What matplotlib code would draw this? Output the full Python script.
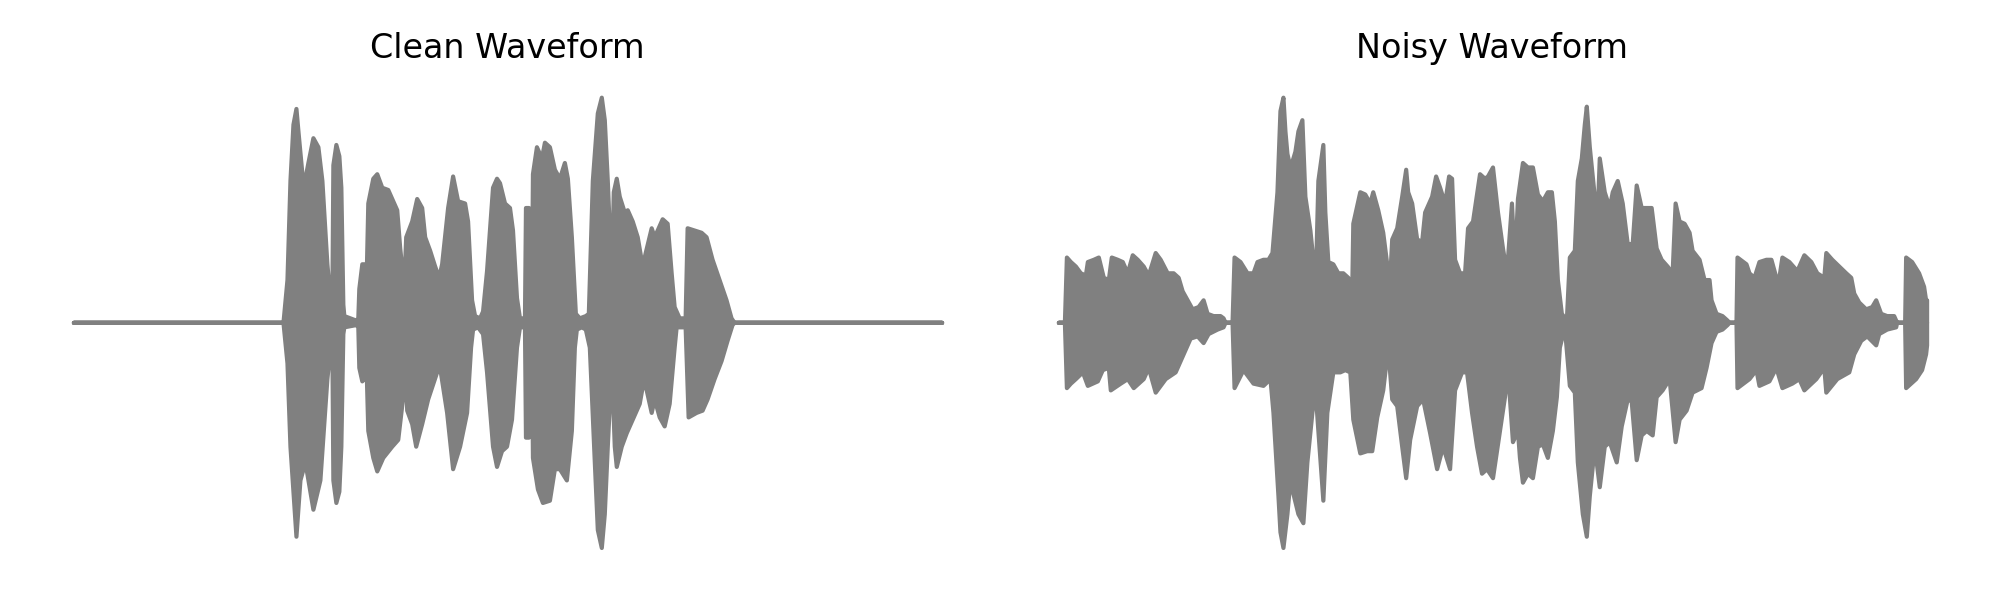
import numpy as np
import matplotlib
matplotlib.use('Agg')
import matplotlib.pyplot as plt

# amplitude envelopes, frame index at 4 ms per frame
hop = 0.004

clean_top_f = [0, 210, 214, 217, 220, 223, 225, 229, 232, 235, 240, 245, 249, 254, 257,
               259, 260, 263, 266, 268, 270, 271, 277, 283, 285, 286, 289, 291, 293,
               295, 300, 304, 309, 315, 320, 324, 327, 331, 333, 339, 344, 349, 352,
               357, 362, 366, 369, 375, 380, 385, 392, 395, 399, 402, 407, 410, 414,
               420, 424, 427, 432, 437, 440, 444, 447, 452, 453, 456, 457, 459, 460,
               464, 469, 472, 477, 482, 487, 492, 495, 499, 503, 507, 513, 516, 520,
               525, 529, 532, 535, 539, 541, 544, 547, 552, 555, 560, 565, 570, 573,
               579, 582, 585, 590, 595, 599, 602, 607, 613, 615, 622, 629, 634, 640,
               647, 654, 659, 662, 870]
clean_top = [0, 0, 0.19, 0.63, 0.88, 0.95, 0.85, 0.66, 0.64, 0.71, 0.82, 0.78, 0.63, 0.26, 0.11,
             0.10, 0.70, 0.79, 0.74, 0.60, 0.08, 0.03, 0.02, 0.01, 0.02, 0.15, 0.26, 0.26, 0.12,
             0.53, 0.64, 0.66, 0.60, 0.59, 0.54, 0.50, 0.33, 0.16, 0.38, 0.45, 0.55, 0.51, 0.38,
             0.32, 0.25, 0.20, 0.26, 0.51, 0.65, 0.54, 0.53, 0.45, 0.10, 0.03, 0.02, 0.05, 0.23,
             0.60, 0.64, 0.62, 0.53, 0.51, 0.41, 0.11, 0.02, 0.02, 0.51, 0.51, 0.03, 0.10, 0.66,
             0.78, 0.73, 0.80, 0.78, 0.68, 0.64, 0.71, 0.64, 0.38, 0.04, 0.02, 0.03, 0.04, 0.63,
             0.93, 1.00, 0.90, 0.63, 0.19, 0.58, 0.64, 0.56, 0.49, 0.50, 0.45, 0.38, 0.25, 0.31,
             0.42, 0.38, 0.41, 0.46, 0.44, 0.22, 0.07, 0.02, 0.02, 0.42, 0.41, 0.40, 0.38, 0.28,
             0.19, 0.10, 0.02, 0, 0]

clean_bot_f = [0, 210, 214, 217, 223, 227, 232, 240, 247, 254, 257, 259, 260, 263, 266,
               268, 270, 271, 283, 285, 286, 289, 291, 293, 295, 300, 304, 310, 319, 325,
               330, 332, 334, 339, 343, 349, 355, 364, 367, 374, 380, 387, 394, 398, 400,
               405, 410, 414, 420, 424, 429, 434, 439, 444, 447, 452, 453, 456, 457, 459,
               460, 465, 470, 477, 482, 487, 494, 499, 502, 504, 509, 513, 517, 522, 525,
               529, 532, 535, 539, 542, 544, 549, 554, 560, 567, 571, 574, 579, 582, 587,
               592, 597, 602, 604, 613, 616, 624, 630, 635, 642, 649, 655, 660, 662, 870]
clean_bot = [0, 0, -0.18, -0.55, -0.95, -0.70, -0.62, -0.83, -0.70, -0.25, -0.12, -0.10, -0.70, -0.80, -0.75,
             -0.55, -0.05, -0.02, -0.01, -0.02, -0.20, -0.26, -0.25, -0.15, -0.48, -0.60, -0.66, -0.60, -0.55, -0.52,
             -0.33, -0.15, -0.39, -0.45, -0.55, -0.45, -0.34, -0.22, -0.20, -0.40, -0.65, -0.55, -0.40, -0.11, -0.03,
             -0.02, -0.05, -0.22, -0.55, -0.64, -0.57, -0.55, -0.43, -0.11, -0.02, -0.02, -0.51, -0.51, -0.03, -0.10,
             -0.60, -0.74, -0.80, -0.79, -0.65, -0.65, -0.70, -0.48, -0.11, -0.03, -0.02, -0.03, -0.11, -0.62, -0.92,
             -1.00, -0.85, -0.55, -0.18, -0.55, -0.64, -0.55, -0.49, -0.43, -0.36, -0.26, -0.30, -0.40, -0.34, -0.42,
             -0.46, -0.36, -0.11, -0.02, -0.02, -0.42, -0.40, -0.39, -0.34, -0.25, -0.17, -0.08, -0.01, 0, 0]

noisy_top_f = [0, 6, 8, 12, 17, 22, 27, 29, 35, 40, 45, 50, 53, 59, 64, 69, 74, 79, 85, 90,
               97, 102, 109, 115, 120, 124, 129, 134, 140, 145, 149, 155, 162, 165, 167, 174,
               176, 182, 189, 195, 199, 205, 210, 214, 219, 222, 225, 227, 229, 232, 235, 237,
               240, 244, 247, 252, 255, 258, 260, 265, 267, 270, 275, 280, 285, 290, 294, 295,
               302, 307, 312, 315, 320, 325, 329, 331, 334, 339, 344, 348, 350, 354, 359, 364,
               367, 374, 378, 382, 387, 391, 394, 397, 402, 407, 410, 415, 422, 427, 430, 435,
               440, 445, 449, 454, 457, 460, 465, 470, 475, 480, 485, 490, 494, 497, 500, 504,
               509, 512, 517, 520, 524, 527, 529, 532, 537, 540, 542, 547, 552, 555, 560, 565,
               570, 575, 579, 584, 589, 594, 599, 604, 610, 615, 618, 622, 627, 632, 635, 642,
               647, 652, 654, 659, 665, 670, 672, 679, 680, 689, 692, 697, 702, 709, 714, 719,
               722, 725, 732, 740, 747, 754, 760, 767, 769, 775, 782, 789, 794, 797, 802, 809,
               815, 819, 824, 830, 837, 839, 840, 848, 849, 855, 862, 867, 869, 870]
noisy_top = [0, 0, 0.29, 0.27, 0.25, 0.22, 0.21, 0.27, 0.28, 0.29, 0.20, 0.19, 0.29, 0.28, 0.27, 0.22, 0.30, 0.28, 0.25, 0.21,
             0.31, 0.28, 0.22, 0.22, 0.20, 0.14, 0.10, 0.06, 0.07, 0.10, 0.04, 0.03, 0.03, 0.02, 0, 0,
             0.29, 0.27, 0.22, 0.22, 0.27, 0.28, 0.28, 0.31, 0.58, 0.94, 1.00, 0.85, 0.75, 0.69, 0.73, 0.76,
             0.85, 0.90, 0.56, 0.41, 0.28, 0.28, 0.63, 0.79, 0.49, 0.27, 0.26, 0.22, 0.22, 0.20, 0.16, 0.44,
             0.58, 0.57, 0.53, 0.58, 0.50, 0.40, 0.26, 0.11, 0.37, 0.42, 0.56, 0.68, 0.58, 0.53, 0.37, 0.36,
             0.49, 0.56, 0.65, 0.60, 0.53, 0.65, 0.64, 0.28, 0.22, 0.22, 0.42, 0.45, 0.66, 0.64, 0.65, 0.69,
             0.49, 0.33, 0.22, 0.53, 0.25, 0.55, 0.71, 0.69, 0.69, 0.57, 0.54, 0.58, 0.58, 0.45, 0.19, 0.04,
             0.01, 0.29, 0.32, 0.63, 0.73, 0.88, 0.96, 0.78, 0.56, 0.49, 0.73, 0.58, 0.51, 0.58, 0.63, 0.53,
             0.35, 0.35, 0.61, 0.51, 0.51, 0.51, 0.33, 0.28, 0.25, 0.22, 0.53, 0.45, 0.44, 0.40, 0.32, 0.28,
             0.19, 0.19, 0.10, 0.04, 0.03, 0.01, 0, 0, 0.29, 0.26, 0.22, 0.20, 0.27, 0.28, 0.28, 0.20,
             0.20, 0.29, 0.27, 0.23, 0.30, 0.27, 0.22, 0.20, 0.31, 0.28, 0.25, 0.22, 0.20, 0.13, 0.09, 0.06,
             0.07, 0.10, 0.04, 0.03, 0.03, 0.01, 0, 0, 0.29, 0.27, 0.22, 0.16, 0.10, 0.10]

noisy_bot_f = [0, 6, 8, 12, 17, 24, 29, 39, 44, 50, 52, 62, 69, 75, 85, 90, 97, 107, 117, 125,
               132, 139, 145, 150, 159, 165, 167, 174, 176, 185, 195, 205, 212, 215, 220, 222,
               225, 229, 232, 235, 240, 245, 249, 254, 257, 260, 265, 269, 275, 282, 287, 292,
               295, 302, 309, 314, 319, 325, 330, 334, 339, 344, 348, 352, 359, 365, 372, 379,
               385, 392, 397, 404, 409, 414, 419, 424, 429, 435, 442, 447, 450, 455, 460, 462,
               465, 470, 475, 480, 485, 490, 495, 499, 502, 507, 512, 517, 520, 525, 529, 532,
               537, 542, 547, 552, 559, 564, 570, 574, 579, 584, 589, 595, 599, 605, 612, 618,
               622, 629, 635, 644, 649, 654, 659, 665, 670, 672, 679, 680, 692, 699, 702, 712,
               719, 725, 735, 742, 747, 759, 767, 769, 780, 792, 797, 804, 810, 819, 822, 830,
               839, 840, 848, 849, 859, 865, 869, 870]
noisy_bot = [0, 0, -0.29, -0.27, -0.25, -0.22, -0.28, -0.26, -0.21, -0.20, -0.30, -0.27, -0.25, -0.29, -0.25, -0.20, -0.31, -0.25, -0.22, -0.14,
             -0.07, -0.06, -0.09, -0.05, -0.03, -0.02, 0, 0, -0.29, -0.21, -0.27, -0.28, -0.25, -0.40, -0.77, -0.93,
             -1.00, -0.85, -0.70, -0.76, -0.85, -0.89, -0.62, -0.40, -0.29, -0.48, -0.79, -0.40, -0.22, -0.22, -0.21, -0.22,
             -0.43, -0.58, -0.57, -0.57, -0.42, -0.30, -0.11, -0.34, -0.37, -0.55, -0.69, -0.52, -0.37, -0.34, -0.49, -0.65,
             -0.55, -0.65, -0.30, -0.22, -0.22, -0.40, -0.55, -0.67, -0.65, -0.69, -0.48, -0.33, -0.21, -0.53, -0.48, -0.60,
             -0.71, -0.67, -0.69, -0.55, -0.54, -0.60, -0.48, -0.33, -0.11, -0.02, -0.28, -0.31, -0.62, -0.85, -0.95, -0.77,
             -0.55, -0.73, -0.55, -0.53, -0.62, -0.46, -0.34, -0.35, -0.61, -0.50, -0.48, -0.50, -0.33, -0.30, -0.25, -0.53,
             -0.43, -0.39, -0.31, -0.29, -0.20, -0.09, -0.04, -0.03, -0.01, 0, 0, -0.29, -0.25, -0.21, -0.28, -0.26,
             -0.20, -0.29, -0.27, -0.25, -0.30, -0.25, -0.20, -0.31, -0.25, -0.22, -0.14, -0.08, -0.06, -0.10, -0.05, -0.03,
             -0.02, 0, 0, -0.29, -0.25, -0.21, -0.14, -0.10]

panels = [
    ('Clean Waveform', clean_top_f, clean_top, clean_bot_f, clean_bot),
    ('Noisy Waveform', noisy_top_f, noisy_top, noisy_bot_f, noisy_bot),
]

fig, axes = plt.subplots(1, 2, figsize=(10, 3))
for ax, (title, tf, top, bf, bot) in zip(axes, panels):
    t_top = np.array(tf) * hop
    t_bot = np.array(bf) * hop
    ax.fill_between(t_top, 0, top, color='gray', linewidth=1.5, joinstyle='round')
    ax.fill_between(t_bot, bot, 0, color='gray', linewidth=1.5, joinstyle='round')
    ax.set_title(title)
    ax.axis('off')

plt.tight_layout()
plt.savefig('out.png', dpi=200)
